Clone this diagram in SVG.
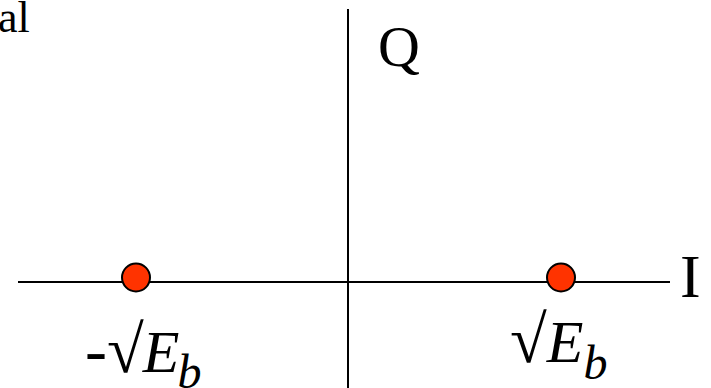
<svg xmlns="http://www.w3.org/2000/svg" width="711" height="388" viewBox="0 0 711 388">
<style>
.t{font-family:"Liberation Serif","Times New Roman",serif;fill:#000}
.ax{stroke:#000;stroke-width:2;fill:none}
.pt{fill:#ff3300;stroke:#000;stroke-width:2}
.rad{font-size:67px}
.it{font-style:italic}
</style>
<rect width="711" height="388" fill="#fff"/>
<text class="t" x="-2" y="32" font-size="44">al</text>
<g id="connectors">
<line class="ax" x1="348" y1="9" x2="348" y2="388"/>
<line class="ax" x1="18" y1="282" x2="670" y2="282"/>
</g>
<g id="axis-q"><text class="t" x="378" y="66" font-size="58">Q</text></g>
<g id="axis-i"><text class="t" x="680" y="297" font-size="62">I</text></g>
<g id="point-neg">
<circle class="pt" cx="136" cy="277.5" r="14"/>
<text class="t" x="85" y="372" font-size="60"><tspan font-size="66">-</tspan><tspan class="rad">√</tspan><tspan class="it" dx="-1">E</tspan><tspan class="it" font-size="48" dy="16" dx="-2">b</tspan></text>
</g>
<g id="point-pos">
<circle class="pt" cx="561" cy="277.5" r="14"/>
<text class="t" x="510" y="362" font-size="60"><tspan class="rad">√</tspan><tspan class="it">E</tspan><tspan class="it" font-size="48" dy="17">b</tspan></text>
</g>
</svg>
